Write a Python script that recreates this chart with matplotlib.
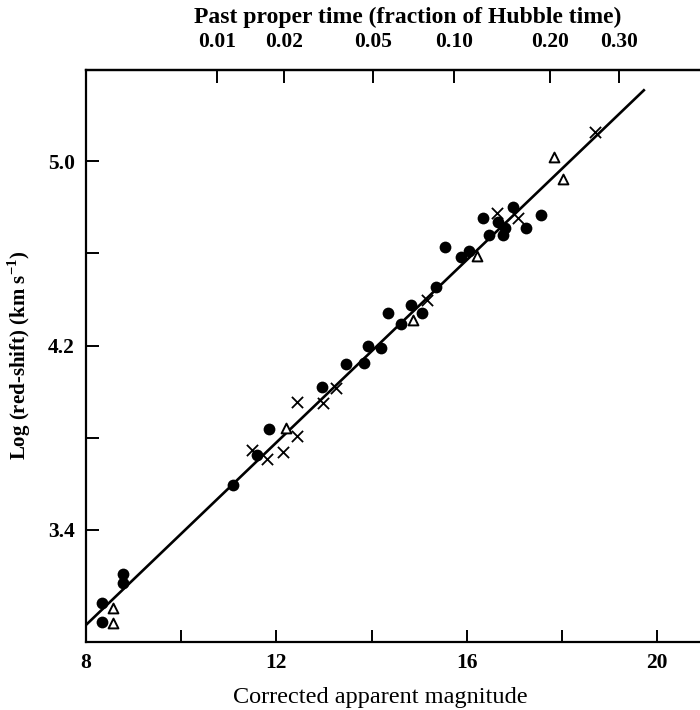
import matplotlib
matplotlib.use("Agg")
import matplotlib.pyplot as plt
from matplotlib.ticker import FixedLocator

plt.rcParams['font.family'] = ['Liberation Serif', 'DejaVu Serif']
plt.rcParams['mathtext.fontset'] = 'custom'
plt.rcParams['mathtext.rm'] = 'Liberation Serif'
plt.rcParams['mathtext.bf'] = 'Liberation Serif:bold'

# Data: (corrected apparent magnitude, log red-shift)
circle_mag = [8.33, 8.33, 8.78, 8.78, 11.08, 11.60, 11.84, 12.95, 13.46, 13.83,
              13.93, 14.19, 14.34, 14.61, 14.82, 15.05, 15.35, 15.54, 15.87, 16.05,
              16.35, 16.47, 16.66, 16.77, 16.80, 16.98, 17.24, 17.55]
circle_logv = [3.082, 3.002, 3.209, 3.169, 3.595, 3.725, 3.838, 4.019, 4.120, 4.125,
               4.198, 4.188, 4.340, 4.293, 4.376, 4.340, 4.452, 4.626, 4.582, 4.611,
               4.752, 4.679, 4.737, 4.679, 4.708, 4.799, 4.708, 4.766]

triangle_mag = [8.56, 8.56, 12.20, 14.86, 16.22, 17.83, 18.03]
triangle_logv = [3.062, 2.997, 3.841, 4.310, 4.588, 5.019, 4.922]

cross_mag = [11.48, 11.80, 12.13, 12.43, 12.43, 12.97, 13.25, 15.16, 16.63, 17.08, 18.69]
cross_logv = [3.747, 3.706, 3.739, 3.956, 3.807, 3.949, 4.014, 4.397, 4.773, 4.752, 5.126]

fit_mag = [8.0, 19.74]
fit_logv = [2.988, 5.311]

x_ticks = [8, 10, 12, 14, 16, 18, 20]
x_ticklabels = ['8', '', '12', '', '16', '', '20']
y_ticks = [3.4, 3.8, 4.2, 4.6, 5.0]
y_ticklabels = ['3.4', '', '4.2', '', '5.0']
top_tick_mag = [10.76, 12.16, 14.03, 15.73, 17.75, 19.19]
top_ticklabels = ['0.01', '0.02', '0.05', '0.10', '0.20', '0.30']

fig = plt.figure(figsize=(7.0, 7.1), dpi=100)
ax = fig.add_axes([0.1229, 0.0958, 0.8771, 0.8056])

ax.plot(fit_mag, fit_logv, color='black', lw=1.9, solid_capstyle='butt', zorder=2)
ax.scatter(circle_mag, circle_logv, s=72, marker='o', color='black', zorder=3, linewidths=0)
ax.scatter(triangle_mag, triangle_logv, s=50, marker='^', facecolors='white',
           edgecolors='black', linewidths=1.4, zorder=4)
ax.scatter(cross_mag, cross_logv, s=65, marker='x', color='black', linewidths=1.3, zorder=4)

ax.set_xlim(8, 20.9)
ax.set_ylim(2.914, 5.395)

ax.spines['right'].set_visible(False)
for s in ['left', 'top', 'bottom']:
    ax.spines[s].set_linewidth(1.6)

tick_fs = 15.5
ax.xaxis.set_major_locator(FixedLocator(x_ticks))
ax.set_xticklabels(x_ticklabels, fontsize=tick_fs, fontweight='bold')
ax.yaxis.set_major_locator(FixedLocator(y_ticks))
ax.set_yticklabels(y_ticklabels, fontsize=tick_fs, fontweight='bold')
ax.tick_params(axis='both', direction='in', length=9, width=1.4)
ax.tick_params(axis='x', top=False, pad=8)
ax.tick_params(axis='y', right=False, pad=8)

sec = ax.secondary_xaxis('top')
sec.xaxis.set_major_locator(FixedLocator(top_tick_mag))
sec.set_xticklabels(top_ticklabels, fontsize=tick_fs, fontweight='bold')
sec.tick_params(direction='in', length=9, width=1.4, pad=13)
sec.spines['top'].set_linewidth(1.6)

fig.text(0.583, 0.976, 'Past proper time (fraction of Hubble time)', ha='center', va='center',
         fontsize=17, fontweight='bold')
fig.text(0.543, 0.018, 'Corrected apparent magnitude', ha='center', va='center',
         fontsize=17.5)
fig.text(0.027, 0.50, r'Log (red-shift) (km s$^{\mathbf{-1}}$)', ha='center', va='center',
         rotation=90, fontsize=15, fontweight='bold')

fig.savefig('out.png', dpi=100)
